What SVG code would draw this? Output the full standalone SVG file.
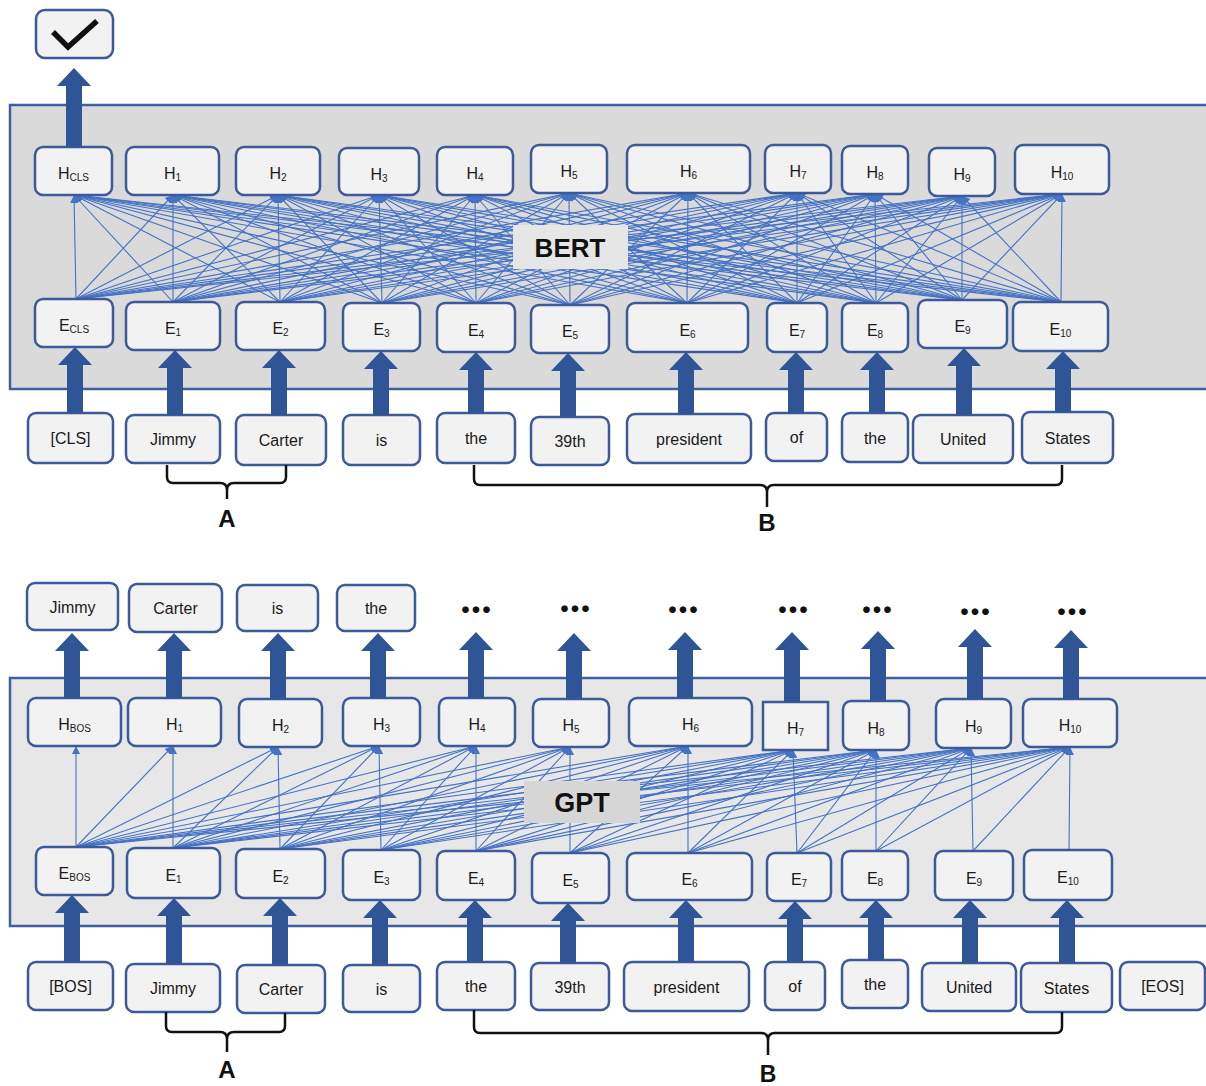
<svg xmlns="http://www.w3.org/2000/svg" width="1206" height="1086" viewBox="0 0 1206 1086">
<defs>
<style>
.box{fill:#f2f2f2;stroke:#3c5a99;stroke-width:2.5}
.t{font-family:"Liberation Sans",Arial,sans-serif;font-size:16px;fill:#1a1a1a;text-anchor:middle}
.sub{font-size:10px}
.big{fill:#2f5597}
.thin path{fill:none;stroke:#4472c4;stroke-width:1.1}
.thin path{marker-end:url(#ah)}
.brace{fill:none;stroke:#111;stroke-width:2.5}
.lbl{font-family:"Liberation Sans",Arial,sans-serif;font-weight:bold;fill:#111;text-anchor:middle}
.dots{font-family:Lato,"Noto Sans",sans-serif;font-weight:bold;font-size:44px;fill:#111;text-anchor:middle}
</style>
<marker id="ah" viewBox="0 0 10 10" refX="10" refY="5" markerWidth="9" markerHeight="8" markerUnits="userSpaceOnUse" orient="auto">
<path d="M0,0 L10,5 L0,10 z" fill="#4472c4"/>
</marker>
</defs>
<rect width="1206" height="1086" fill="#ffffff"/>

<!-- panels -->
<g id="bert-panel"><rect x="10" y="105" width="1210" height="284" fill="#dadada" stroke="#3f5f9f" stroke-width="2.5"/></g>
<g id="gpt-panel"><rect x="10" y="678" width="1210" height="248" fill="#e7e7e7" stroke="#3f5f9f" stroke-width="2.5"/></g>

<!-- connectors -->
<g id="connectors">
<g class="thin" id="bert-attn">
<path d="M76 299L74 195"/><path d="M173 302L74 195"/><path d="M280 302L74 195"/><path d="M382 303L74 195"/><path d="M476 303L74 195"/><path d="M570 305L74 195"/><path d="M687 303L74 195"/><path d="M797 303L74 195"/><path d="M876 303L74 195"/><path d="M962 300L74 195"/><path d="M1061 302L74 195"/>
<path d="M76 299L173 195"/><path d="M173 302L173 195"/><path d="M280 302L173 195"/><path d="M382 303L173 195"/><path d="M476 303L173 195"/><path d="M570 305L173 195"/><path d="M687 303L173 195"/><path d="M797 303L173 195"/><path d="M876 303L173 195"/><path d="M962 300L173 195"/><path d="M1061 302L173 195"/>
<path d="M76 299L278 195"/><path d="M173 302L278 195"/><path d="M280 302L278 195"/><path d="M382 303L278 195"/><path d="M476 303L278 195"/><path d="M570 305L278 195"/><path d="M687 303L278 195"/><path d="M797 303L278 195"/><path d="M876 303L278 195"/><path d="M962 300L278 195"/><path d="M1061 302L278 195"/>
<path d="M76 299L379 195"/><path d="M173 302L379 195"/><path d="M280 302L379 195"/><path d="M382 303L379 195"/><path d="M476 303L379 195"/><path d="M570 305L379 195"/><path d="M687 303L379 195"/><path d="M797 303L379 195"/><path d="M876 303L379 195"/><path d="M962 300L379 195"/><path d="M1061 302L379 195"/>
<path d="M76 299L475 195"/><path d="M173 302L475 195"/><path d="M280 302L475 195"/><path d="M382 303L475 195"/><path d="M476 303L475 195"/><path d="M570 305L475 195"/><path d="M687 303L475 195"/><path d="M797 303L475 195"/><path d="M876 303L475 195"/><path d="M962 300L475 195"/><path d="M1061 302L475 195"/>
<path d="M76 299L569 193"/><path d="M173 302L569 193"/><path d="M280 302L569 193"/><path d="M382 303L569 193"/><path d="M476 303L569 193"/><path d="M570 305L569 193"/><path d="M687 303L569 193"/><path d="M797 303L569 193"/><path d="M876 303L569 193"/><path d="M962 300L569 193"/><path d="M1061 302L569 193"/>
<path d="M76 299L688 193"/><path d="M173 302L688 193"/><path d="M280 302L688 193"/><path d="M382 303L688 193"/><path d="M476 303L688 193"/><path d="M570 305L688 193"/><path d="M687 303L688 193"/><path d="M797 303L688 193"/><path d="M876 303L688 193"/><path d="M962 300L688 193"/><path d="M1061 302L688 193"/>
<path d="M76 299L797 193"/><path d="M173 302L797 193"/><path d="M280 302L797 193"/><path d="M382 303L797 193"/><path d="M476 303L797 193"/><path d="M570 305L797 193"/><path d="M687 303L797 193"/><path d="M797 303L797 193"/><path d="M876 303L797 193"/><path d="M962 300L797 193"/><path d="M1061 302L797 193"/>
<path d="M76 299L875 194"/><path d="M173 302L875 194"/><path d="M280 302L875 194"/><path d="M382 303L875 194"/><path d="M476 303L875 194"/><path d="M570 305L875 194"/><path d="M687 303L875 194"/><path d="M797 303L875 194"/><path d="M876 303L875 194"/><path d="M962 300L875 194"/><path d="M1061 302L875 194"/>
<path d="M76 299L962 196"/><path d="M173 302L962 196"/><path d="M280 302L962 196"/><path d="M382 303L962 196"/><path d="M476 303L962 196"/><path d="M570 305L962 196"/><path d="M687 303L962 196"/><path d="M797 303L962 196"/><path d="M876 303L962 196"/><path d="M962 300L962 196"/><path d="M1061 302L962 196"/>
<path d="M76 299L1062 194"/><path d="M173 302L1062 194"/><path d="M280 302L1062 194"/><path d="M382 303L1062 194"/><path d="M476 303L1062 194"/><path d="M570 305L1062 194"/><path d="M687 303L1062 194"/><path d="M797 303L1062 194"/><path d="M876 303L1062 194"/><path d="M962 300L1062 194"/><path d="M1061 302L1062 194"/>
</g>
<g class="thin" id="gpt-attn">
<path d="M76 847L76 746"/><path d="M76 847L173 746"/><path d="M76 847L278 747"/><path d="M76 847L379 746"/><path d="M76 847L476 746"/><path d="M76 847L570 747"/><path d="M76 847L688 746"/><path d="M76 847L793 750"/><path d="M76 847L876 750"/><path d="M76 847L971 748"/><path d="M76 847L1070 747"/>
<path d="M173 848L173 746"/><path d="M173 848L278 747"/><path d="M173 848L379 746"/><path d="M173 848L476 746"/><path d="M173 848L570 747"/><path d="M173 848L688 746"/><path d="M173 848L793 750"/><path d="M173 848L876 750"/><path d="M173 848L971 748"/><path d="M173 848L1070 747"/>
<path d="M280 849L278 747"/><path d="M280 849L379 746"/><path d="M280 849L476 746"/><path d="M280 849L570 747"/><path d="M280 849L688 746"/><path d="M280 849L793 750"/><path d="M280 849L876 750"/><path d="M280 849L971 748"/><path d="M280 849L1070 747"/>
<path d="M381 850L379 746"/><path d="M381 850L476 746"/><path d="M381 850L570 747"/><path d="M381 850L688 746"/><path d="M381 850L793 750"/><path d="M381 850L876 750"/><path d="M381 850L971 748"/><path d="M381 850L1070 747"/>
<path d="M476 851L476 746"/><path d="M476 851L570 747"/><path d="M476 851L688 746"/><path d="M476 851L793 750"/><path d="M476 851L876 750"/><path d="M476 851L971 748"/><path d="M476 851L1070 747"/>
<path d="M570 853L570 747"/><path d="M570 853L688 746"/><path d="M570 853L793 750"/><path d="M570 853L876 750"/><path d="M570 853L971 748"/><path d="M570 853L1070 747"/>
<path d="M688 853L688 746"/><path d="M688 853L793 750"/><path d="M688 853L876 750"/><path d="M688 853L971 748"/><path d="M688 853L1070 747"/>
<path d="M797 853L793 750"/><path d="M797 853L876 750"/><path d="M797 853L971 748"/><path d="M797 853L1070 747"/>
<path d="M876 851L876 750"/><path d="M876 851L971 748"/><path d="M876 851L1070 747"/>
<path d="M973 851L971 748"/><path d="M973 851L1070 747"/>
<path d="M1069 850L1070 747"/>
</g>
</g>

<!-- model labels over lines -->
<g id="bert-label"><rect x="513" y="225" width="115" height="44" fill="#e6e6e6"/><text class="lbl" x="570" y="257" font-size="26">BERT</text></g>
<g id="gpt-label"><rect x="524" y="781" width="116" height="42" fill="#d6d6d6"/><text class="lbl" x="582" y="812" font-size="27">GPT</text></g>

<!-- BERT output -->
<g id="bert-out"><rect class="box" x="36" y="10" width="77" height="48" rx="9"/><path d="M53 32L68 47L97 21" fill="none" stroke="#111" stroke-width="5.5"/></g>

<!-- BERT H row -->
<g id="bert-h-cls"><rect class="box" x="35" y="147" width="77" height="48" rx="8"/><text class="t" x="73.5" y="179">H<tspan class="sub" dy="2">CLS</tspan></text></g>
<g id="bert-h1"><rect class="box" x="126" y="147" width="93" height="48" rx="8"/><text class="t" x="172.5" y="179">H<tspan class="sub" dy="2">1</tspan></text></g>
<g id="bert-h2"><rect class="box" x="236" y="147" width="84" height="48" rx="8"/><text class="t" x="278" y="179">H<tspan class="sub" dy="2">2</tspan></text></g>
<g id="bert-h3"><rect class="box" x="339" y="148" width="80" height="47" rx="8"/><text class="t" x="379" y="179.5">H<tspan class="sub" dy="2">3</tspan></text></g>
<g id="bert-h4"><rect class="box" x="437" y="147" width="76" height="48" rx="8"/><text class="t" x="475" y="179">H<tspan class="sub" dy="2">4</tspan></text></g>
<g id="bert-h5"><rect class="box" x="531" y="145" width="76" height="48" rx="8"/><text class="t" x="569" y="177">H<tspan class="sub" dy="2">5</tspan></text></g>
<g id="bert-h6"><rect class="box" x="627" y="145" width="123" height="48" rx="8"/><text class="t" x="688.5" y="177">H<tspan class="sub" dy="2">6</tspan></text></g>
<g id="bert-h7"><rect class="box" x="765" y="145" width="66" height="48" rx="8"/><text class="t" x="798" y="177">H<tspan class="sub" dy="2">7</tspan></text></g>
<g id="bert-h8"><rect class="box" x="842" y="146" width="66" height="48" rx="8"/><text class="t" x="875" y="178">H<tspan class="sub" dy="2">8</tspan></text></g>
<g id="bert-h9"><rect class="box" x="929" y="148" width="66" height="48" rx="8"/><text class="t" x="962" y="180">H<tspan class="sub" dy="2">9</tspan></text></g>
<g id="bert-h10"><rect class="box" x="1015" y="145" width="94" height="49" rx="8"/><text class="t" x="1062" y="177.5">H<tspan class="sub" dy="2">10</tspan></text></g>

<!-- BERT E row -->
<g id="bert-e-cls"><rect class="box" x="35" y="299" width="78" height="48" rx="8"/><text class="t" x="74" y="331">E<tspan class="sub" dy="2">CLS</tspan></text></g>
<g id="bert-e1"><rect class="box" x="126" y="302" width="94" height="48" rx="8"/><text class="t" x="173" y="334">E<tspan class="sub" dy="2">1</tspan></text></g>
<g id="bert-e2"><rect class="box" x="236" y="302" width="89" height="48" rx="8"/><text class="t" x="280.5" y="334">E<tspan class="sub" dy="2">2</tspan></text></g>
<g id="bert-e3"><rect class="box" x="343" y="303" width="77" height="48" rx="8"/><text class="t" x="381.5" y="335">E<tspan class="sub" dy="2">3</tspan></text></g>
<g id="bert-e4"><rect class="box" x="437" y="303" width="78" height="49" rx="8"/><text class="t" x="476" y="335.5">E<tspan class="sub" dy="2">4</tspan></text></g>
<g id="bert-e5"><rect class="box" x="531" y="305" width="78" height="48" rx="8"/><text class="t" x="570" y="337">E<tspan class="sub" dy="2">5</tspan></text></g>
<g id="bert-e6"><rect class="box" x="627" y="303" width="121" height="49" rx="8"/><text class="t" x="687.5" y="335.5">E<tspan class="sub" dy="2">6</tspan></text></g>
<g id="bert-e7"><rect class="box" x="767" y="303" width="60" height="49" rx="8"/><text class="t" x="797" y="335.5">E<tspan class="sub" dy="2">7</tspan></text></g>
<g id="bert-e8"><rect class="box" x="842" y="303" width="66" height="49" rx="8"/><text class="t" x="875" y="335.5">E<tspan class="sub" dy="2">8</tspan></text></g>
<g id="bert-e9"><rect class="box" x="918" y="300" width="89" height="48" rx="8"/><text class="t" x="962.5" y="332">E<tspan class="sub" dy="2">9</tspan></text></g>
<g id="bert-e10"><rect class="box" x="1013" y="302" width="95" height="49" rx="8"/><text class="t" x="1060.5" y="334.5">E<tspan class="sub" dy="2">10</tspan></text></g>

<!-- BERT inputs -->
<g id="bert-in-cls"><rect class="box" x="28" y="413" width="85" height="50" rx="8"/><text class="t" x="70.5" y="444">[CLS]</text></g>
<g id="bert-in-jimmy"><rect class="box" x="126" y="415" width="94" height="48" rx="8"/><text class="t" x="173" y="445">Jimmy</text></g>
<g id="bert-in-carter"><rect class="box" x="236" y="415" width="90" height="50" rx="8"/><text class="t" x="281" y="446">Carter</text></g>
<g id="bert-in-is"><rect class="box" x="343" y="415" width="77" height="50" rx="8"/><text class="t" x="381.5" y="446">is</text></g>
<g id="bert-in-the1"><rect class="box" x="437" y="413" width="78" height="50" rx="8"/><text class="t" x="476" y="444">the</text></g>
<g id="bert-in-39th"><rect class="box" x="531" y="417" width="78" height="48" rx="8"/><text class="t" x="570" y="447">39th</text></g>
<g id="bert-in-president"><rect class="box" x="627" y="414" width="124" height="49" rx="8"/><text class="t" x="689" y="444.5">president</text></g>
<g id="bert-in-of"><rect class="box" x="766" y="413" width="61" height="48" rx="8"/><text class="t" x="796.5" y="443">of</text></g>
<g id="bert-in-the2"><rect class="box" x="842" y="413" width="66" height="49" rx="8"/><text class="t" x="875" y="443.5">the</text></g>
<g id="bert-in-united"><rect class="box" x="913" y="415" width="100" height="48" rx="8"/><text class="t" x="963" y="445">United</text></g>
<g id="bert-in-states"><rect class="box" x="1022" y="412" width="91" height="51" rx="8"/><text class="t" x="1067.5" y="443.5">States</text></g>

<!-- GPT outputs -->
<g id="gpt-out-jimmy"><rect class="box" x="27" y="583" width="91" height="47" rx="8"/><text class="t" x="72.5" y="612.5">Jimmy</text></g>
<g id="gpt-out-carter"><rect class="box" x="129" y="584" width="93" height="48" rx="8"/><text class="t" x="175.5" y="614">Carter</text></g>
<g id="gpt-out-is"><rect class="box" x="237" y="585" width="81" height="46" rx="8"/><text class="t" x="277.5" y="614">is</text></g>
<g id="gpt-out-the"><rect class="box" x="337" y="585" width="78" height="46" rx="8"/><text class="t" x="376" y="614">the</text></g>
<g id="gpt-out-dots">
<text class="dots" x="476" y="613">...</text>
<text class="dots" x="575" y="612">...</text>
<text class="dots" x="683" y="613">...</text>
<text class="dots" x="793" y="613">...</text>
<text class="dots" x="877" y="613">...</text>
<text class="dots" x="975" y="615">...</text>
<text class="dots" x="1072" y="615">...</text>
</g>

<!-- GPT H row -->
<g id="gpt-h-bos"><rect class="box" x="28" y="698" width="93" height="48" rx="8"/><text class="t" x="74.5" y="730">H<tspan class="sub" dy="2">BOS</tspan></text></g>
<g id="gpt-h1"><rect class="box" x="128" y="698" width="93" height="48" rx="8"/><text class="t" x="174.5" y="730">H<tspan class="sub" dy="2">1</tspan></text></g>
<g id="gpt-h2"><rect class="box" x="239" y="699" width="83" height="48" rx="8"/><text class="t" x="280.5" y="731">H<tspan class="sub" dy="2">2</tspan></text></g>
<g id="gpt-h3"><rect class="box" x="343" y="698" width="77" height="48" rx="8"/><text class="t" x="381.5" y="730">H<tspan class="sub" dy="2">3</tspan></text></g>
<g id="gpt-h4"><rect class="box" x="439" y="698" width="76" height="48" rx="8"/><text class="t" x="477" y="730">H<tspan class="sub" dy="2">4</tspan></text></g>
<g id="gpt-h5"><rect class="box" x="533" y="699" width="76" height="48" rx="8"/><text class="t" x="571" y="731">H<tspan class="sub" dy="2">5</tspan></text></g>
<g id="gpt-h6"><rect class="box" x="629" y="698" width="123" height="48" rx="8"/><text class="t" x="690.5" y="730">H<tspan class="sub" dy="2">6</tspan></text></g>
<g id="gpt-h7"><rect class="box" x="763" y="702" width="65" height="48"/><text class="t" x="795.5" y="734">H<tspan class="sub" dy="2">7</tspan></text></g>
<g id="gpt-h8"><rect class="box" x="843" y="701" width="66" height="49" rx="8"/><text class="t" x="876" y="733.5">H<tspan class="sub" dy="2">8</tspan></text></g>
<g id="gpt-h9"><rect class="box" x="936" y="699" width="75" height="49" rx="8"/><text class="t" x="973.5" y="731.5">H<tspan class="sub" dy="2">9</tspan></text></g>
<g id="gpt-h10"><rect class="box" x="1023" y="699" width="94" height="48" rx="8"/><text class="t" x="1070" y="731">H<tspan class="sub" dy="2">10</tspan></text></g>

<!-- GPT E row -->
<g id="gpt-e-bos"><rect class="box" x="36" y="847" width="77" height="48" rx="8"/><text class="t" x="74.5" y="879">E<tspan class="sub" dy="2">BOS</tspan></text></g>
<g id="gpt-e1"><rect class="box" x="127" y="848" width="93" height="50" rx="8"/><text class="t" x="173.5" y="881">E<tspan class="sub" dy="2">1</tspan></text></g>
<g id="gpt-e2"><rect class="box" x="236" y="849" width="89" height="49" rx="8"/><text class="t" x="280.5" y="881.5">E<tspan class="sub" dy="2">2</tspan></text></g>
<g id="gpt-e3"><rect class="box" x="343" y="850" width="77" height="50" rx="8"/><text class="t" x="381.5" y="883">E<tspan class="sub" dy="2">3</tspan></text></g>
<g id="gpt-e4"><rect class="box" x="437" y="851" width="78" height="49" rx="8"/><text class="t" x="476" y="883.5">E<tspan class="sub" dy="2">4</tspan></text></g>
<g id="gpt-e5"><rect class="box" x="532" y="853" width="77" height="50" rx="8"/><text class="t" x="570.5" y="886">E<tspan class="sub" dy="2">5</tspan></text></g>
<g id="gpt-e6"><rect class="box" x="627" y="853" width="125" height="47" rx="8"/><text class="t" x="689.5" y="884.5">E<tspan class="sub" dy="2">6</tspan></text></g>
<g id="gpt-e7"><rect class="box" x="767" y="853" width="64" height="48" rx="8"/><text class="t" x="799" y="885">E<tspan class="sub" dy="2">7</tspan></text></g>
<g id="gpt-e8"><rect class="box" x="842" y="851" width="66" height="49" rx="8"/><text class="t" x="875" y="883.5">E<tspan class="sub" dy="2">8</tspan></text></g>
<g id="gpt-e9"><rect class="box" x="935" y="851" width="78" height="49" rx="8"/><text class="t" x="974" y="883.5">E<tspan class="sub" dy="2">9</tspan></text></g>
<g id="gpt-e10"><rect class="box" x="1024" y="850" width="88" height="50" rx="8"/><text class="t" x="1068" y="883">E<tspan class="sub" dy="2">10</tspan></text></g>

<!-- GPT inputs -->
<g id="gpt-in-bos"><rect class="box" x="28" y="962" width="85" height="48" rx="8"/><text class="t" x="70.5" y="992">[BOS]</text></g>
<g id="gpt-in-jimmy"><rect class="box" x="126" y="964" width="94" height="48" rx="8"/><text class="t" x="173" y="994">Jimmy</text></g>
<g id="gpt-in-carter"><rect class="box" x="237" y="965" width="88" height="48" rx="8"/><text class="t" x="281" y="995">Carter</text></g>
<g id="gpt-in-is"><rect class="box" x="343" y="965" width="77" height="47" rx="8"/><text class="t" x="381.5" y="994.5">is</text></g>
<g id="gpt-in-the1"><rect class="box" x="437" y="962" width="78" height="48" rx="8"/><text class="t" x="476" y="992">the</text></g>
<g id="gpt-in-39th"><rect class="box" x="531" y="963" width="78" height="47" rx="8"/><text class="t" x="570" y="992.5">39th</text></g>
<g id="gpt-in-president"><rect class="box" x="624" y="962" width="125" height="49" rx="8"/><text class="t" x="686.5" y="992.5">president</text></g>
<g id="gpt-in-of"><rect class="box" x="765" y="962" width="60" height="48" rx="8"/><text class="t" x="795" y="992">of</text></g>
<g id="gpt-in-the2"><rect class="box" x="842" y="960" width="66" height="48" rx="8"/><text class="t" x="875" y="990">the</text></g>
<g id="gpt-in-united"><rect class="box" x="922" y="963" width="94" height="48" rx="8"/><text class="t" x="969" y="993">United</text></g>
<g id="gpt-in-states"><rect class="box" x="1021" y="963" width="91" height="49" rx="8"/><text class="t" x="1066.5" y="993.5">States</text></g>
<g id="gpt-in-eos"><rect class="box" x="1120" y="962" width="85" height="48" rx="8"/><text class="t" x="1162.5" y="992">[EOS]</text></g>

<!-- thick arrows -->
<g id="flow-arrows" class="big">
<path d="M66 147V86H57L74 68L91 86H82V147Z"/>
<path d="M67 413V365H58L75 347L92 365H83V413Z"/>
<path d="M167 415V368H158L175 350L192 368H183V415Z"/>
<path d="M271 415V368H262L279 350L296 368H287V415Z"/>
<path d="M373 415V369H364L381 351L398 369H389V415Z"/>
<path d="M468 413V370H459L476 352L493 370H484V413Z"/>
<path d="M560 417V371H551L568 353L585 371H576V417Z"/>
<path d="M678 414V370H669L686 352L703 370H694V414Z"/>
<path d="M788 413V370H779L796 352L813 370H804V413Z"/>
<path d="M869 413V370H860L877 352L894 370H885V413Z"/>
<path d="M956 415V366H947L964 348L981 366H972V415Z"/>
<path d="M1055 412V369H1046L1063 351L1080 369H1071V412Z"/>
<path d="M64 698V651H55L72 633L89 651H80V698Z"/>
<path d="M166 698V651H157L174 633L191 651H182V698Z"/>
<path d="M270 699V651H261L278 633L295 651H286V699Z"/>
<path d="M370 698V651H361L378 633L395 651H386V698Z"/>
<path d="M468 698V650H459L476 632L493 650H484V698Z"/>
<path d="M566 699V651H557L574 633L591 651H582V699Z"/>
<path d="M677 698V650H668L685 632L702 650H693V698Z"/>
<path d="M784 702V650H775L792 632L809 650H800V702Z"/>
<path d="M870 701V649H861L878 631L895 649H886V701Z"/>
<path d="M967 699V647H958L975 629L992 647H983V699Z"/>
<path d="M1063 699V648H1054L1071 630L1088 648H1079V699Z"/>
<path d="M64 962V913H55L72 895L89 913H80V962Z"/>
<path d="M166 964V916H157L174 898L191 916H182V964Z"/>
<path d="M272 965V916H263L280 898L297 916H288V965Z"/>
<path d="M372 965V918H363L380 900L397 918H388V965Z"/>
<path d="M467 962V918H458L475 900L492 918H483V962Z"/>
<path d="M560 963V921H551L568 903L585 921H576V963Z"/>
<path d="M678 962V918H669L686 900L703 918H694V962Z"/>
<path d="M787 962V919H778L795 901L812 919H803V962Z"/>
<path d="M868 960V918H859L876 900L893 918H884V960Z"/>
<path d="M962 963V918H953L970 900L987 918H978V963Z"/>
<path d="M1059 963V918H1050L1067 900L1084 918H1075V963Z"/>
</g>

<!-- braces -->
<g id="bert-brace-a"><path class="brace" d="M167 465V477Q167 483 173 483H220Q227 483 227 490Q227 483 234 483H280Q286 483 286 477V465M227 488V499"/><text class="lbl" x="227" y="527" font-size="24">A</text></g>
<g id="bert-brace-b"><path class="brace" d="M474 465V479Q474 485 480 485H760Q767 485 767 492Q767 485 774 485H1056Q1062 485 1062 479V465M767 490V507"/><text class="lbl" x="767" y="531" font-size="24">B</text></g>
<g id="gpt-brace-a"><path class="brace" d="M166 1012V1026Q166 1032 172 1032H220Q227 1032 227 1039Q227 1032 234 1032H279Q285 1032 285 1026V1013M227 1037V1052"/><text class="lbl" x="227" y="1078" font-size="24">A</text></g>
<g id="gpt-brace-b"><path class="brace" d="M474 1010V1027Q474 1033 480 1033H761Q768 1033 768 1040Q768 1033 775 1033H1056Q1062 1033 1062 1027V1012M768 1038V1055"/><text class="lbl" x="768" y="1082" font-size="23">B</text></g>
</svg>
